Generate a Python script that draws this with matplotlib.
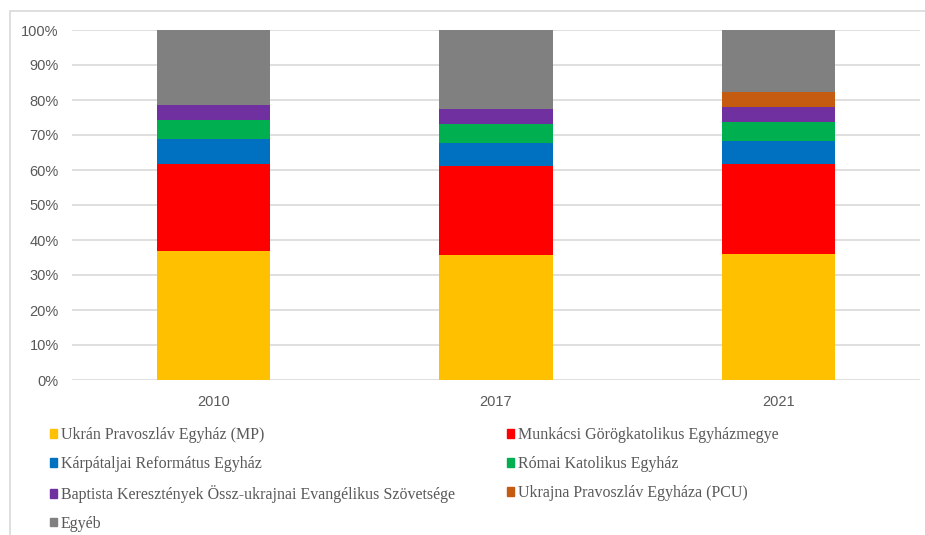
import numpy as np
import matplotlib.pyplot as plt
from matplotlib.patches import Rectangle, Patch

# years on the x axis
years = ['2010', '2017', '2021']

# church shares in percent
ukran_mp = [36.9, 35.8, 36.0]
munkacsi = [24.7, 25.4, 25.8]
karpataljai = [7.3, 6.6, 6.6]
romai = [5.4, 5.4, 5.3]
baptista = [4.3, 4.1, 4.3]
ukrajna_pcu = [0.0, 0.0, 4.3]
egyeb = [21.4, 22.7, 17.7]

labels = ['Ukrán Pravoszláv Egyház (MP)',
          'Munkácsi Görögkatolikus Egyházmegye',
          'Kárpátaljai Református Egyház',
          'Római Katolikus Egyház',
          'Baptista Keresztények Össz-ukrajnai Evangélikus Szövetsége',
          'Ukrajna Pravoszláv Egyháza (PCU)',
          'Egyéb']
colors = ['#FFC000', '#FF0000', '#0070C0', '#00B050', '#7030A0', '#C55A11', '#808080']

series = [ukran_mp, munkacsi, karpataljai, romai, baptista, ukrajna_pcu, egyeb]

W, H = 925, 535
fig = plt.figure(figsize=(W / 100, H / 100), dpi=100)

# light frame round the chart area (cut by the image edge on right/bottom)
fig.patches.append(Rectangle((10 / W, -0.1), 1.2, 1 - 11 / H + 0.1,
                             transform=fig.transFigure, fill=False,
                             edgecolor='#d9d9d9', linewidth=1.2))

ax = fig.add_axes([72 / W, 1 - 380 / H, (920 - 72) / W, 350 / H])

x = np.arange(len(years))
bottom = np.zeros(len(years))
for vals, c, lab in zip(series, colors, labels):
    v = np.array(vals)
    ax.bar(x, v, 0.4, bottom=bottom, color=c, label=lab, zorder=3)
    bottom += v

ax.set_xlim(-0.5, 2.5)
ax.set_ylim(0, 100)
ax.set_yticks(np.arange(0, 101, 10))
ax.set_yticklabels([f'{t}%' for t in range(0, 101, 10)])
ax.set_xticks(x)
ax.set_xticklabels(years)
ax.grid(axis='y', color='#d9d9d9', linewidth=1.2, zorder=0)
for s in ax.spines.values():
    s.set_visible(False)
ax.tick_params(length=0, colors='#595959', labelsize=10.5)
ax.tick_params(axis='y', pad=9.5)
ax.tick_params(axis='x', pad=11)
for t in ax.get_xticklabels() + ax.get_yticklabels():
    t.set_family('Liberation Sans')

# legend, row-major order like the original
handles = [Patch(color=c) for c in colors]
order = [0, 2, 4, 6, 1, 3, 5]
fig.legend([handles[i] for i in order], [labels[i] for i in order],
           ncol=2, loc='upper left', bbox_to_anchor=(35.5 / W, 1 - 413 / H),
           frameon=False, handlelength=0.45, handleheight=0.45,
           handletextpad=0.25, columnspacing=3.25, labelspacing=0.8,
           prop={'family': 'Liberation Serif', 'size': 11.5},
           labelcolor='#595959')

fig.savefig('out.png', dpi=100)
